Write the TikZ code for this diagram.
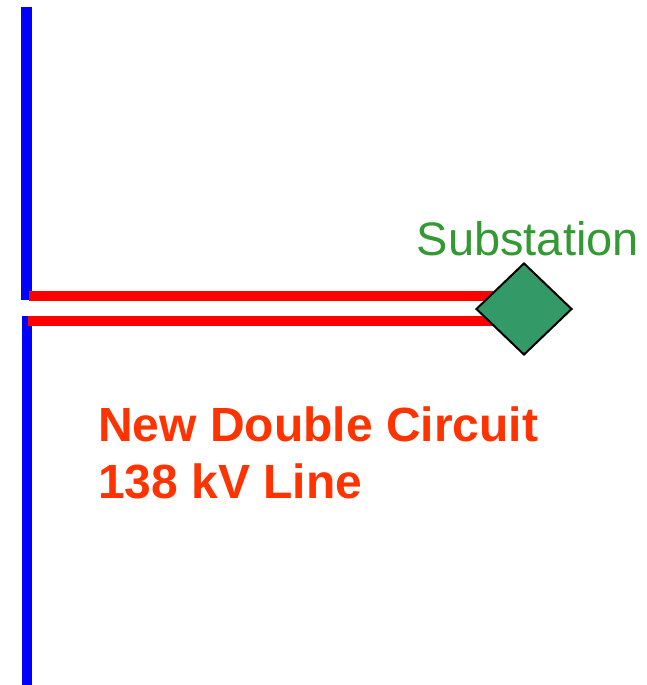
\documentclass[tikz,border=0pt]{standalone}
\usepackage{fontspec}
\setmainfont{Liberation Sans}
\usetikzlibrary{shapes.geometric}
\definecolor{busblue}{HTML}{0000FF}
\definecolor{linered}{HTML}{FF0000}
\definecolor{labelred}{HTML}{FF3300}
\definecolor{subgreen}{HTML}{339933}
\definecolor{diamondgreen}{HTML}{339966}
\begin{document}
\begin{tikzpicture}[x=1pt,y=-1pt,
  bus/.style={draw=busblue,line width=10.5pt},
  feeder/.style={draw=linered,line width=10.5pt},
  subst/.style={diamond,draw=black,line width=2pt,fill=diamondgreen,minimum width=96pt,minimum height=92pt,inner sep=0pt},
  lbl/.style={inner sep=0pt,anchor=base west}]
\useasboundingbox (0,0) rectangle (646,685);
% buses
\coordinate (b1t) at (26.5,7);
\coordinate (b1b) at (26.5,300);
\coordinate (b2t) at (27,316);
\coordinate (b2b) at (27,685);
\draw[bus] (b1t) -- (b1b);
\draw[bus] (b2t) -- (b2b);
% feeders
\coordinate (f1) at (29,296);
\coordinate (f2) at (28,321);
\coordinate (g1) at (515,296);
\coordinate (g2) at (515,321);
\draw[feeder] (f1) -- (g1);
\draw[feeder] (f2) -- (g2);
% substation
\node[subst] (sub) at (524,309) {};
\node[lbl,text=subgreen,font=\fontsize{47}{56}\selectfont] (subl) at (416.5,255) {Substation};
% label
\node[lbl,text=labelred,font=\bfseries\fontsize{48}{57}\selectfont] (l1) at (98,441) {New Double Circuit};
\node[lbl,text=labelred,font=\bfseries\fontsize{48}{57}\selectfont] (l2) at (98,498) {138 kV Line};
\end{tikzpicture}
\end{document}
